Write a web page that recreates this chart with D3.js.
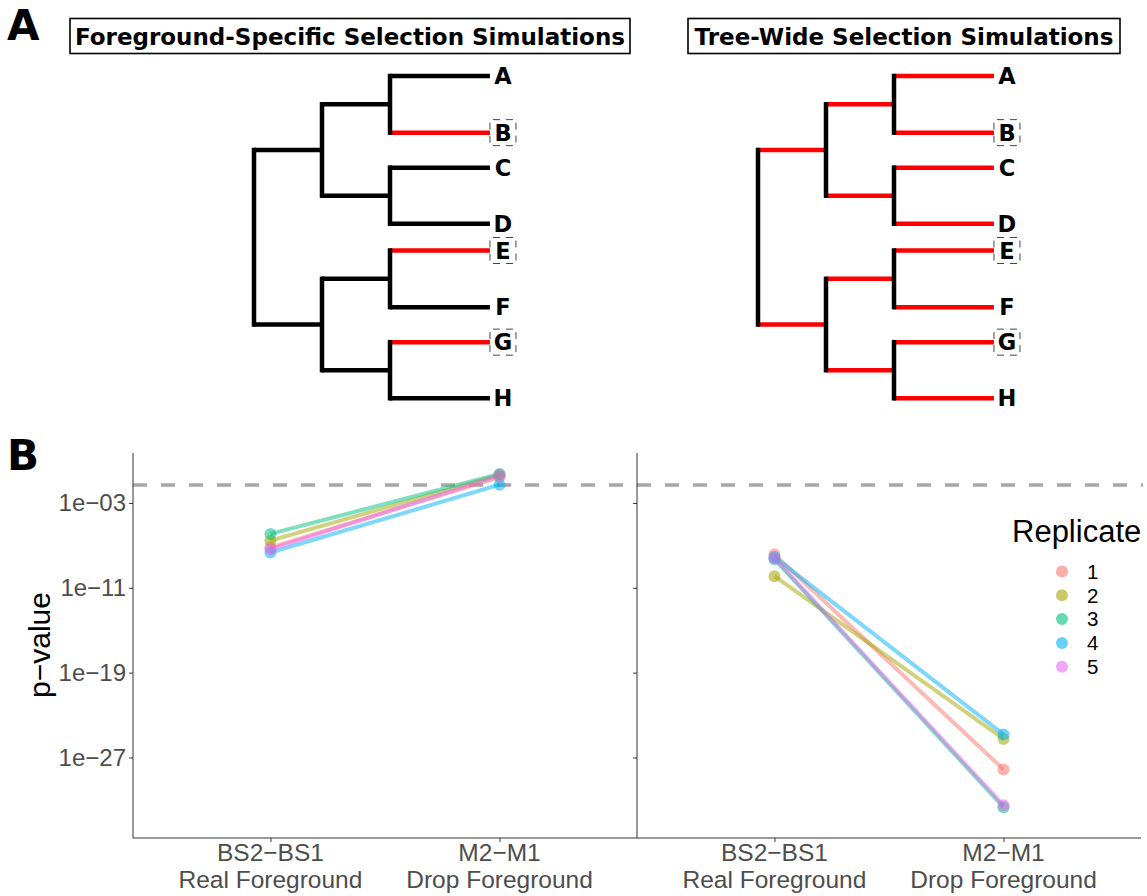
<!DOCTYPE html>
<html>
<head>
<meta charset="utf-8">
<script src="https://cdn.jsdelivr.net/npm/d3@7"></script>
<style>
  body { margin: 0; background: #fff; }
  svg { display: block; }
</style>
</head>
<body>
<svg id="fig" width="1147" height="896"></svg>
<script>
// --- panel A data ---
const tipNames = ['A', 'B', 'C', 'D', 'E', 'F', 'G', 'H'];
const tipRank = [0, 1.23, 1.99, 3.21, 3.79, 5.02, 5.78, 7];   // vertical order of tips (uneven, as drawn)
const foreground = ['B', 'E', 'G'];
const topology = [[['A', 'B'], ['C', 'D']], [['E', 'F'], ['G', 'H']]];
const tipBranch = 1.47;   // terminal branch length relative to internal ones
const treeTitles = ['Foreground-Specific Selection Simulations', 'Tree-Wide Selection Simulations'];

// --- panel B data ---
const groups = ['BS2−BS1|Real Foreground', 'M2−M1|Drop Foreground'];
const replicates = ['1', '2', '3', '4', '5'];
// log10 p-values per replicate: [BS2-BS1, M2-M1]
const fgLogP = [[-7.2, -0.55], [-6.55, -0.35], [-5.91, -0.25], [-7.67, -1.27], [-7.36, -0.4]];
const twLogP = [[-7.85, -28.13], [-9.9, -25.25], [-8.3, -31.7], [-8.1, -24.83], [-8.2, -31.5]];
const yTicks = [1e-3, 1e-11, 1e-19, 1e-27];
const threshold = 0.05;
const repColors = ['#F8766D', '#A3A500', '#00BF7D', '#00B0F6', '#E76BF3'];

const svg = d3.select('#fig');
const treeFont = 'DejaVu Sans, Verdana, sans-serif';
const plotFont = 'Liberation Sans, Arial, Helvetica, sans-serif';

// panel letters
svg.append('text').attr('x', 7).attr('y', 40).text('A')
  .attr('font-family', treeFont).attr('font-weight', 'bold').attr('font-size', 42);
svg.append('text').attr('x', 7).attr('y', 470).text('B')
  .attr('font-family', treeFont).attr('font-weight', 'bold').attr('font-size', 42);

// ---------- trees ----------
function toNode(t) {
  return Array.isArray(t) ? { children: t.map(toNode) } : { name: t };
}
const yTree = d3.scaleLinear().domain([0, 7]).range([76, 398.3]);

function drawTree(opt) {
  const root = d3.hierarchy(toNode(topology));
  const xs = d3.scaleLinear().domain([0, 1]).range([opt.x0, opt.x0 + 68]);
  root.eachBefore(n => {
    n.len = n.parent ? (n.children ? n.parent.len + 1 : n.parent.len + tipBranch) : 0;
  });
  root.eachAfter(n => {
    n.py = n.children ? d3.mean(n.children, c => c.py) : yTree(tipRank[tipNames.indexOf(n.data.name)]);
    n.px = xs(n.len);
  });

  const g = svg.append('g');
  const lw = 4.5;
  const edges = root.descendants().filter(n => n.parent);
  g.selectAll('line.h').data(edges).join('line')
    .attr('x1', d => d.parent.px).attr('x2', d => d.px)
    .attr('y1', d => d.py).attr('y2', d => d.py)
    .attr('stroke', d => opt.allRed || (!d.children && foreground.includes(d.data.name)) ? '#ff0000' : '#000')
    .attr('stroke-width', lw);
  const inner = root.descendants().filter(n => n.children);
  g.selectAll('line.v').data(inner).join('line')
    .attr('x1', d => d.px).attr('x2', d => d.px)
    .attr('y1', d => d.children[0].py - lw / 2)
    .attr('y2', d => d.children[d.children.length - 1].py + lw / 2)
    .attr('stroke', '#000').attr('stroke-width', lw);

  const tips = root.leaves();
  g.selectAll('rect.box').data(tips.filter(d => foreground.includes(d.data.name))).join('rect')
    .attr('x', d => d.px).attr('y', d => d.py - 13)
    .attr('width', 26).attr('height', 26)
    .attr('fill', 'none').attr('stroke', '#444').attr('stroke-width', 1)
    .attr('stroke-dasharray', '7,6').attr('stroke-dashoffset', -3);
  g.selectAll('text.tip').data(tips).join('text')
    .attr('x', d => d.px + 13).attr('y', d => d.py)
    .attr('dy', '0.36em').attr('text-anchor', 'middle')
    .attr('font-family', treeFont).attr('font-weight', 'bold').attr('font-size', 22.5)
    .text(d => d.data.name);

  // title box
  g.append('rect').attr('x', opt.bx0).attr('y', 18.5)
    .attr('width', opt.bx1 - opt.bx0).attr('height', 35)
    .attr('fill', '#fff').attr('stroke', '#000').attr('stroke-width', 1.6);
  g.append('text').attr('x', (opt.bx0 + opt.bx1) / 2).attr('y', 44.5)
    .attr('text-anchor', 'middle')
    .attr('font-family', treeFont).attr('font-weight', 'bold').attr('font-size', 23)
    .text(opt.title);
}
drawTree({ x0: 254, allRed: false, bx0: 70, bx1: 630, title: treeTitles[0] });
drawTree({ x0: 758, allRed: true, bx0: 688, bx1: 1120, title: treeTitles[1] });

// ---------- panel B ----------
const plotTop = 453, plotBottom = 838;
const y = d3.scaleLog().domain([Math.pow(10, -34.6), Math.pow(10, 1.72)]).range([plotBottom, plotTop]);
const fmt = d => '1e\u2212' + String(-Math.round(Math.log10(d))).padStart(2, '0');
const panels = [
  { x0: 133, x1: 637, data: fgLogP, labels: true },
  { x0: 637, x1: 1141, data: twLogP, labels: false }
];

panels.forEach(p => {
  const x = d3.scalePoint().domain(groups).range([p.x0, p.x1]).padding(0.6);
  const g = svg.append('g');

  // threshold line
  g.append('line').attr('x1', p.x0).attr('x2', p.x1 + 2)
    .attr('y1', y(threshold)).attr('y2', y(threshold))
    .attr('stroke', '#a8a8a8').attr('stroke-width', 3.6).attr('stroke-dasharray', '14,14');

  const line = d3.line().x((v, i) => x(groups[i])).y(v => y(Math.pow(10, v)));
  g.selectAll('path.rep').data(p.data).join('path')
    .attr('d', d => line(d)).attr('fill', 'none')
    .attr('stroke', (d, i) => repColors[i]).attr('stroke-width', 4).attr('stroke-opacity', 0.5);
  p.data.forEach((d, i) => {
    g.selectAll(null).data(d).join('circle')
      .attr('cx', (v, j) => x(groups[j])).attr('cy', v => y(Math.pow(10, v)))
      .attr('r', 6).attr('fill', repColors[i]).attr('fill-opacity', 0.55);
  });

  // axes
  const ya = d3.axisLeft(y).tickValues(yTicks).tickSize(4).tickPadding(3)
    .tickFormat(p.labels ? fmt : '');
  const yg = g.append('g').attr('transform', `translate(${p.x0},0)`).call(ya);
  yg.select('.domain').attr('d', `M0,${plotTop}V${plotBottom}`).attr('stroke', '#333');
  yg.selectAll('.tick line').attr('stroke', '#333');
  yg.selectAll('.tick text').attr('font-family', plotFont).attr('font-size', 24).attr('fill', '#4d4d4d');

  const xa = d3.axisBottom(x).tickSize(4).tickFormat('');
  const xg = g.append('g').attr('transform', `translate(0,${plotBottom})`).call(xa);
  xg.select('.domain').attr('d', `M${p.x0},0H${p.x1}`).attr('stroke', '#333');
  xg.selectAll('.tick line').attr('stroke', '#333');
  groups.forEach(lab => {
    const t = g.append('text').attr('text-anchor', 'middle')
      .attr('font-family', plotFont).attr('font-size', 24.5).attr('fill', '#4d4d4d');
    lab.split('|').forEach((s, k) => {
      t.append('tspan').attr('x', x(lab)).attr('y', 861 + k * 26.5).text(s);
    });
  });
});

// y title
svg.append('text').attr('transform', 'translate(50,645) rotate(-90)')
  .attr('text-anchor', 'middle').attr('font-family', plotFont).attr('font-size', 30)
  .text('p\u2212value');

// legend
const lg = svg.append('g');
lg.append('text').attr('x', 1012).attr('y', 542).text('Replicate')
  .attr('font-family', plotFont).attr('font-size', 31);
replicates.forEach((r, i) => {
  const cy = 571.5 + i * 23.8;
  lg.append('circle').attr('cx', 1062).attr('cy', cy).attr('r', 6)
    .attr('fill', repColors[i]).attr('fill-opacity', 0.6);
  lg.append('text').attr('x', 1087).attr('y', cy).attr('dy', '0.36em').text(r)
    .attr('font-family', plotFont).attr('font-size', 20.5);
});
</script>
</body>
</html>
